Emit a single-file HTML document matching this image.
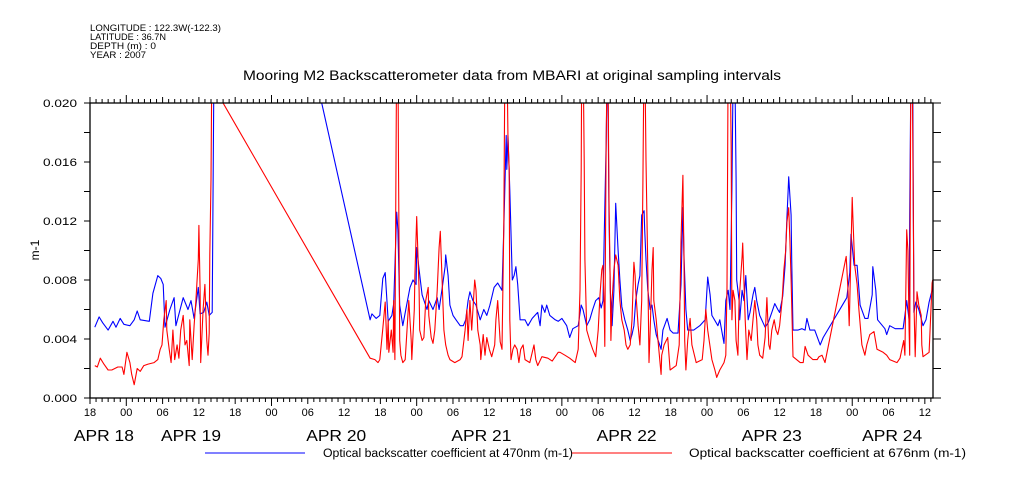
<!DOCTYPE html>
<html><head><meta charset="utf-8"><style>
body{margin:0;background:#fff}
svg{display:block;font-family:"Liberation Sans",sans-serif}
</style></head><body>
<svg id="c" width="1009" height="504" viewBox="0 0 1009 504" xmlns="http://www.w3.org/2000/svg">
<g font-size="9" fill="#000">
<text x="90" y="31" textLength="131" lengthAdjust="spacingAndGlyphs">LONGITUDE : 122.3W(-122.3)</text>
<text x="90" y="40" textLength="76" lengthAdjust="spacingAndGlyphs">LATITUDE : 36.7N</text>
<text x="90" y="49" textLength="66" lengthAdjust="spacingAndGlyphs">DEPTH (m) : 0</text>
<text x="90" y="58" textLength="56" lengthAdjust="spacingAndGlyphs">YEAR : 2007</text>
</g>
<text x="243" y="80" font-size="13.5" textLength="538" lengthAdjust="spacingAndGlyphs">Mooring M2 Backscatterometer data from MBARI at original sampling intervals</text>
<text x="0" y="0" font-size="12" text-anchor="middle" transform="translate(39,250) rotate(-90)">m-1</text>
<defs><clipPath id="pc"><rect x="90" y="103" width="843" height="295"/></clipPath></defs>
<g id="axes"></g>
<g id="series" clip-path="url(#pc)"></g>
<rect x="90" y="103" width="843" height="295" fill="none" stroke="#000" stroke-width="1.3"/>
<g font-size="11.5">
<line x1="205" y1="453" x2="305" y2="453" stroke="#00f" stroke-width="1"/>
<text x="323" y="457" textLength="250" lengthAdjust="spacingAndGlyphs">Optical backscatter coefficient at 470nm (m-1)</text>
<line x1="572" y1="453" x2="672" y2="453" stroke="#f00" stroke-width="1"/>
<text x="689" y="457" textLength="277" lengthAdjust="spacingAndGlyphs">Optical backscatter coefficient at 676nm (m-1)</text>
</g>
</svg>
<script>
// time in hours since APR 17 18:00; values in units of 0.001 m-1
const t470=[0.8,1.5,2.1,3.0,3.8,4.3,5.0,5.6,6.6,7.3,7.8,8.3,9.8,10.4,11.2,11.7,12.1,12.4,13.2,13.9,14.2,14.9,15.4,16.2,16.7,17.2,17.9,18.2,18.8,19.3,19.7,20.2,21.0,46.3,46.6,47.3,47.9,48.4,48.8,49.3,49.9,50.2,50.6,50.7,50.9,51.2,51.7,52.2,52.9,53.4,53.9,54.0,54.4,54.9,55.7,56.0,56.7,57.4,57.7,58.3,58.7,58.8,59.2,59.5,60.0,60.5,61.2,61.7,62.1,62.5,62.8,63.3,63.8,64.5,65.1,65.6,66.1,66.8,67.4,68.1,68.4,68.8,68.9,69.1,69.4,69.8,70.1,70.4,70.7,71.1,71.9,72.4,73.1,74.0,74.4,74.7,75.2,75.5,76.0,76.9,77.4,78.0,78.8,79.3,79.8,80.7,81.2,81.5,82.1,82.6,83.1,83.6,84.1,84.5,84.8,85.0,85.3,85.5,85.6,85.8,86.0,86.3,86.6,86.9,87.3,87.6,87.9,88.4,88.9,89.3,89.6,89.9,90.2,90.6,90.9,91.2,91.6,91.7,91.9,92.2,92.6,92.9,93.2,93.6,94.4,94.7,95.4,95.9,96.4,97.2,97.7,98.0,98.2,98.5,98.8,99.8,100.8,101.7,102.1,102.5,102.8,103.8,104.1,104.8,105.1,105.5,105.8,106.1,106.3,106.6,106.8,106.9,107.3,107.4,107.8,108.1,108.4,108.8,109.1,109.6,109.9,110.2,110.7,111.6,112.1,112.7,113.2,113.7,114.0,114.5,114.9,115.2,115.4,115.5,115.9,116.0,116.2,117.0,117.7,118.2,118.5,119.0,119.8,120.7,121.2,125.1,125.6,125.8,126.3,126.8,127.3,128.1,128.6,129.3,129.4,129.9,130.2,131.4,131.7,132.2,133.1,134.4,134.7,135.0,135.4,135.5,135.7,136.0,136.2,136.5,137.0,137.7,138.2,138.7,139.2,139.3];
const v470=[4.8,5.5,5.1,4.6,5.2,4.8,5.4,5.0,4.9,5.3,5.9,5.3,5.2,7.1,8.3,8.1,7.7,4.8,6.0,6.8,4.9,6.0,6.8,6.0,6.6,5.4,7.5,5.7,5.8,6.5,5.6,5.8,51.8,5.3,5.7,5.4,5.6,8.1,8.5,5.2,5.6,6.4,11.4,12.6,11.4,6.3,4.9,6.0,7.5,8.0,7.7,10.2,8.7,7.0,6.0,6.6,6.0,6.8,6.0,7.7,8.9,9.7,8.3,6.3,5.6,5.3,4.9,4.9,5.3,6.6,7.2,6.6,6.3,5.3,6.0,5.6,6.3,7.5,7.8,7.3,11.5,17.8,15.5,17.8,14.1,8.0,8.3,8.9,7.7,5.3,5.3,4.9,5.4,5.8,4.9,6.3,5.8,6.3,5.6,5.3,5.2,5.4,4.9,4.1,4.7,4.9,6.3,6.0,4.9,5.3,6.0,6.6,6.8,6.1,6.6,10.9,16.8,22,22,12.3,7.3,4.9,7.3,13.2,10.0,8.0,6.2,5.3,4.6,3.9,4.3,4.9,6.6,7.7,8.3,12.4,12.7,11.4,9.4,7.3,6.0,6.3,5.3,4.3,3.3,4.6,5.4,4.6,4.4,4.4,7.7,12.9,9.4,6.0,4.6,4.6,4.9,5.3,8.2,7.0,5.6,4.9,5.3,3.7,6.6,7.3,6.0,14.1,22,22,14.8,8.0,6.6,5.3,7.3,6.6,8.3,5.3,5.8,7.0,7.5,6.6,5.6,4.8,5.1,5.8,6.4,6.0,5.8,6.9,9.0,12.2,14.0,15.0,12.4,9.4,4.6,4.6,4.7,4.6,5.4,4.6,4.6,3.6,4.1,6.8,8.5,11.1,9.0,9.0,6.3,5.4,5.4,7.0,8.9,7.3,5.3,4.7,4.3,4.9,4.7,4.7,5.6,6.6,5.3,12.3,22,22,5.8,6.5,6.0,4.9,5.3,6.5,7.3,8.0];
const t676=[0.8,1.2,1.7,2.3,3.0,3.6,4.6,5.3,5.6,6.1,6.6,6.9,7.3,7.8,8.3,8.9,9.6,10.6,11.2,11.6,11.9,12.2,12.6,12.7,13.1,13.4,13.7,14.0,14.4,14.7,15.0,15.4,15.7,16.0,16.4,16.5,16.9,17.2,17.5,17.9,18.0,18.2,18.3,18.7,19.0,19.3,19.5,19.7,19.8,20.0,20.2,20.4,20.6,46.3,47.1,47.6,47.9,48.4,48.8,49.1,49.3,49.4,49.8,50.1,50.2,50.4,50.6,50.7,50.9,51.0,51.2,51.4,51.7,52.1,52.4,52.7,53.1,53.2,53.6,53.7,54.0,54.4,54.5,54.9,55.2,55.5,55.9,56.0,56.4,56.7,57.0,57.4,57.7,57.9,58.2,58.5,58.8,59.2,59.5,60.3,61.2,61.5,62.0,62.3,62.5,62.8,63.1,63.6,63.8,64.1,64.5,64.6,65.0,65.3,65.6,66.0,66.4,66.9,67.1,67.4,67.8,68.1,68.4,68.6,68.9,69.1,69.3,69.4,69.6,69.9,70.2,70.6,70.9,71.2,71.6,71.9,72.7,73.4,73.7,74.0,74.7,75.7,76.4,77.4,77.7,78.5,79.3,80.2,80.7,81.0,81.2,81.3,81.5,81.7,81.8,82.1,82.6,83.1,83.6,84.0,84.3,84.6,84.8,85.0,85.1,85.3,85.5,85.6,85.8,86.0,86.1,86.3,86.6,86.9,87.3,87.6,87.9,88.3,88.6,88.9,89.3,89.6,89.9,90.1,90.2,90.6,90.9,91.2,91.4,91.6,91.7,91.9,92.2,92.4,92.6,92.9,93.1,93.2,93.6,93.9,94.4,94.5,94.9,95.5,95.9,96.9,97.4,97.7,98.0,98.2,98.3,98.5,98.8,99.2,99.5,100.2,101.2,101.5,101.8,102.1,102.8,103.3,103.6,104.1,104.8,105.1,105.3,105.5,105.8,106.0,106.1,106.3,106.6,106.8,107.1,107.3,107.8,107.9,108.3,108.6,108.9,109.3,109.6,109.9,110.2,110.4,110.7,111.2,111.6,111.9,112.2,112.4,112.7,113.1,113.4,113.7,114.0,114.4,114.7,115.0,115.2,115.5,115.7,115.9,116.2,117.4,117.9,118.2,118.7,119.5,120.2,120.5,121.0,121.5,125.0,125.3,125.5,125.6,126.0,126.1,126.4,126.8,127.1,127.6,128.1,128.4,128.9,129.6,130.1,131.1,131.7,132.2,133.4,133.9,134.5,134.7,135.0,135.2,135.4,135.5,135.7,135.9,136.2,136.4,136.7,137.0,137.4,137.5,137.7,138.7,139.2,139.3];
const v676=[2.2,2.1,2.7,2.3,1.9,1.9,2.1,2.1,1.6,3.1,2.4,1.6,0.9,2.0,1.8,2.2,2.3,2.4,2.6,3.3,3.6,5.3,6.6,4.6,3.3,2.4,4.6,2.6,3.6,2.7,4.6,5.6,3.6,3.9,2.2,5.3,2.6,4.9,6.6,9.4,11.7,7.3,2.4,6.0,7.7,3.9,2.9,4.4,9.7,14.8,26,26,21,2.7,2.6,2.4,2.6,4.7,6.5,3.3,5.3,3.1,4.6,3.1,6.6,2.6,17.2,24,24,15.8,3.9,2.9,2.4,2.6,4.6,6.6,3.9,2.6,6.0,8.3,12.3,7.3,4.6,3.9,4.1,6.6,7.5,5.6,4.1,3.7,4.6,7.3,10.2,11.3,8.0,4.6,3.6,2.9,2.6,2.4,2.6,2.8,4.6,6.0,3.9,6.6,4.6,8.0,7.3,4.6,3.6,2.6,4.3,2.9,4.1,3.3,2.8,3.6,5.3,6.6,3.8,3.3,11.6,24,24,17.5,15.5,5.3,2.6,3.3,3.6,3.3,2.4,3.3,3.6,2.6,2.4,3.6,2.6,2.2,2.8,2.7,2.5,3.1,3.1,2.9,2.7,2.4,3.3,7.3,15.5,24,24,16.1,9.4,4.6,3.9,3.3,2.8,4.6,7.0,8.7,9.0,6.0,3.5,15.8,24,24,13.4,7.3,3.9,6.6,8.7,9.7,9.0,6.6,5.3,4.6,3.6,3.3,3.6,5.3,9.2,8.3,7.3,4.9,3.6,6.6,14.6,24,24,16.1,8.7,2.4,4.6,8.7,10.2,6.6,5.3,3.9,1.6,2.9,3.6,4.1,1.9,2.2,3.6,10.7,15.1,8.7,3.9,1.9,3.9,5.4,3.6,2.4,2.6,3.9,6.0,4.6,2.6,1.9,1.4,1.9,2.4,2.9,7.5,24,24,16.8,5.3,7.3,6.6,3.9,2.9,6.6,9.6,10.5,5.3,2.6,4.6,3.9,5.3,6.6,5.3,3.6,2.9,2.7,4.1,6.8,3.6,3.3,4.6,5.3,4.6,4.3,4.9,6.6,8.7,10.0,11.9,12.9,10.7,8.0,2.8,2.4,2.4,3.5,2.9,2.6,2.6,2.8,2.9,2.4,9.6,7.3,4.9,6.6,13.6,12.4,9.0,7.7,6.0,3.6,2.9,3.6,4.3,4.5,3.3,3.1,2.9,2.6,2.4,2.7,3.9,2.9,11.4,10.0,4.6,2.9,24,24,6.6,2.8,7.2,6.3,5.6,3.6,2.8,3.1,7.8,8.0];
const yTicks=[0,0.004,0.008,0.012,0.016,0.020];
const yTickLabels=["0.000","0.004","0.008","0.012","0.016","0.020"];
const hourLabels=["18","00","06","12","18","00","06","12","18","00","06","12","18","00","06","12","18","00","06","12","18","00","06","12"];
const dateLabels=["APR 18","APR 19","APR 20","APR 21","APR 22","APR 23","APR 24"];
const dateLabelHours=[2.3,16.7,40.7,64.7,88.7,112.7,132.6];

const NS="http://www.w3.org/2000/svg";
const X0=90,X1=933,Y0=398,Y1=103,TMAX=139.35,VMAX=0.020;
const xs=t=>X0+t*(X1-X0)/TMAX;
const ys=v=>Y0-v*(Y0-Y1)/VMAX;
const axes=document.getElementById('axes'),series=document.getElementById('series');
function mk(tag,a,parent){const e=document.createElementNS(NS,tag);for(const k in a)e.setAttribute(k,a[k]);parent.appendChild(e);return e;}
for(let h=0;h<=139;h++){
  const x=xs(h);const day=((h+18)%24===0);const six=(h%6===0);
  const len=day?8:(six?6:4);
  const b=mk('line',{x1:x,y1:Y0,x2:x,y2:Y0+len,stroke:'#000','stroke-width':1},axes);
  
  
  const tp=mk('line',{x1:x,y1:Y1,x2:x,y2:Y1-len,stroke:'#000','stroke-width':1},axes);
  
  
}
hourLabels.forEach((s,i)=>{
  const t=mk('text',{x:xs(i*6),y:Y0+18,'font-size':11,'text-anchor':'middle'},axes);
  t.textContent=s;
  
  
});
dateLabels.forEach((s,i)=>{
  const t=mk('text',{x:xs(dateLabelHours[i])-30,y:Y0+43,'font-size':15.5,textLength:60,lengthAdjust:'spacingAndGlyphs'},axes);
  t.textContent=s;
  
  
});
for(let k=0;k<=10;k++){
  const y=ys(k*0.002);
  const l=mk('line',{x1:X0-6,y1:y,x2:X0,y2:y,stroke:'#000','stroke-width':1},axes);
  
  
  const r=mk('line',{x1:X1,y1:y,x2:X1+8,y2:y,stroke:'#000','stroke-width':1},axes);
  
  
}
yTicks.forEach((v,i)=>{
  const t=mk('text',{x:43,y:ys(v)+4,'font-size':11,textLength:34,lengthAdjust:'spacingAndGlyphs'},axes);
  t.textContent=yTickLabels[i];
  
  
});
function line(tArr,vArr,color,name){
  const d=tArr.map((t,i)=>(i?'L':'M')+xs(t).toFixed(1)+','+ys(vArr[i]/1000).toFixed(1)).join('');
  const p=mk('path',{d:d,fill:'none',stroke:color,'stroke-width':1.1,'stroke-linejoin':'round'},series);
  
  
}
line(t470,v470,'#0000ff','series-470nm');
line(t676,v676,'#ff0000','series-676nm');
</script>
</body></html>
